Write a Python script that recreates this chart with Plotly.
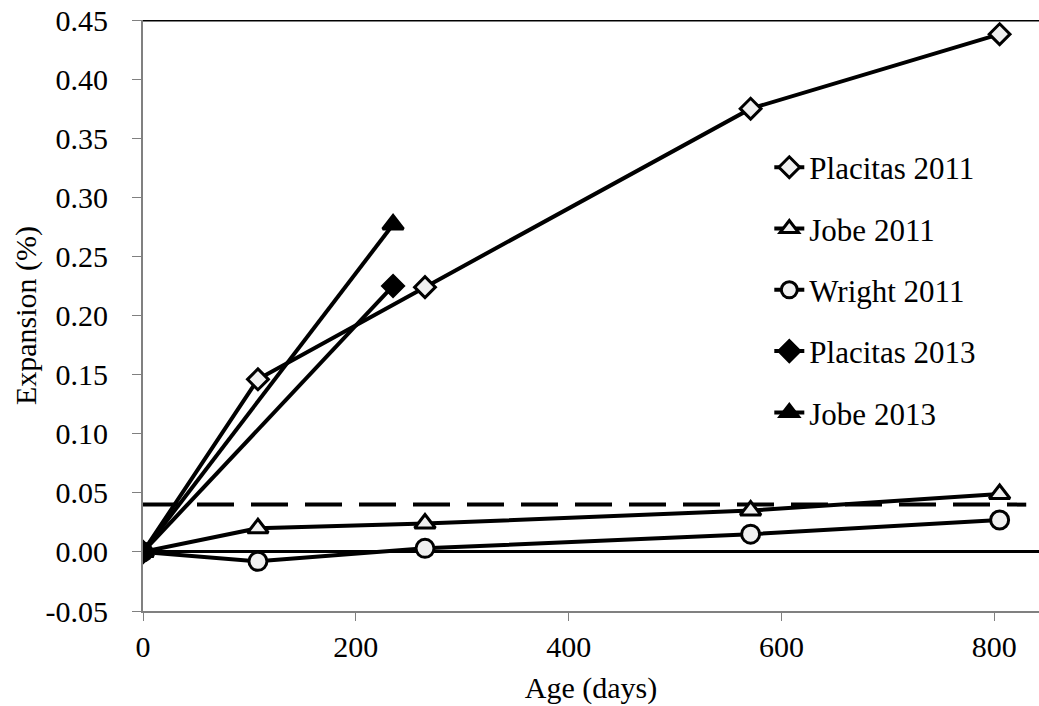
import plotly.graph_objects as go

days_2011 = [0, 108, 265, 571, 805]
days_2013 = [0, 235]
placitas_2011 = [0.0, 0.146, 0.224, 0.375, 0.438]
jobe_2011 = [0.0, 0.020, 0.024, 0.035, 0.049]
wright_2011 = [0.0, -0.008, 0.003, 0.015, 0.027]
placitas_2013 = [0.0, 0.225]
jobe_2013 = [0.0, 0.277]
limit_x = [0, 830]
limit_y = [0.04, 0.04]

y_ticks = [-0.05, 0.0, 0.05, 0.10, 0.15, 0.20, 0.25, 0.30, 0.35, 0.40, 0.45]
y_labels = ["-0.05", "0.00", "0.05", "0.10", "0.15", "0.20", "0.25", "0.30", "0.35", "0.40", "0.45"]
x_ticks = [0, 200, 400, 600, 800]

FONT = "Times New Roman, Liberation Serif, serif"
FS = 30
LW = 4
FILL = "#f0f0f0"

fig = go.Figure()

fig.add_trace(go.Scatter(x=limit_x, y=limit_y, mode="lines", showlegend=False,
                         line=dict(color="black", width=LW, dash="37px,17px"), hoverinfo="skip"))

series = [
    ("Placitas 2011", days_2011, placitas_2011, "diamond", FILL, 16),
    ("Jobe 2011", days_2011, jobe_2011, "triangle-up", FILL, 18),
    ("Wright 2011", days_2011, wright_2011, "circle", FILL, 18),
    ("Placitas 2013", days_2013, placitas_2013, "diamond", "black", 16),
    ("Jobe 2013", days_2013, jobe_2013, "triangle-up", "black", 18),
]
for i, (name, xs, ys, sym, fill, ms) in enumerate(series):
    fig.add_trace(go.Scatter(
        x=xs, y=ys, name=name, mode="lines+markers", legendgroup=f"g{i}",
        line=dict(color="black", width=LW),
        marker=dict(symbol=sym, size=ms, color=fill, line=dict(color="black", width=3)),
    ))

# top border line at 0.45
fig.add_shape(type="line", xref="paper", yref="y", x0=0, x1=1, y0=0.45, y1=0.45,
              line=dict(color="black", width=3))

fig.update_layout(
    width=1039, height=706,
    margin=dict(l=143, r=0, t=20, b=95, autoexpand=False),
    paper_bgcolor="white", plot_bgcolor="white",
    font=dict(family=FONT, size=FS, color="black"),
    legend=dict(x=0.699, y=0.796, xanchor="left", yanchor="top",
                tracegroupgap=18, bgcolor="rgba(0,0,0,0)",
                font=dict(family=FONT, size=31, color="black")),
    xaxis=dict(range=[0, 842], tickvals=x_ticks, showgrid=False, zeroline=False,
               showline=True, linecolor="#808080", linewidth=2, automargin=False,
               ticks="outside", ticklen=8, tickcolor="#808080", tickwidth=1,
               title=dict(text="Age (days)", font=dict(family=FONT, size=FS), standoff=15),
               tickfont=dict(family=FONT, size=FS)),
    yaxis=dict(range=[-0.05, 0.45], tickvals=y_ticks, ticktext=y_labels, showgrid=False,
               zeroline=True, zerolinecolor="black", zerolinewidth=3,
               showline=True, linecolor="#808080", linewidth=2, automargin=False,
               ticks="outside", ticklen=9, tickcolor="#808080", tickwidth=1,
               ticklabelstandoff=18,
               title=dict(text="Expansion (%)", font=dict(family=FONT, size=FS), standoff=0),
               tickfont=dict(family=FONT, size=FS)),
)

fig.write_html("out.html", config={"displayModeBar": False},
               post_script="document.body.style.margin='0';document.body.style.overflow='hidden';")
